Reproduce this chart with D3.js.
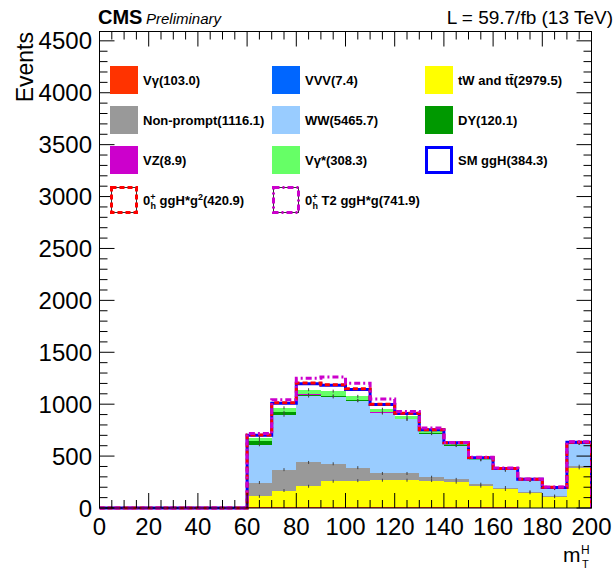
<!DOCTYPE html>
<html>
<head>
<meta charset="utf-8">
<script src="https://cdn.jsdelivr.net/npm/d3@7/dist/d3.min.js"></script>
<style>
  body { margin: 0; background: #fff; }
  svg { display: block; font-family: "Liberation Sans", Arial, Helvetica, sans-serif; }
</style>
</head>
<body>
<svg id="chart" width="615" height="572"></svg>
<script>
// ---------------------------
// mT^H stacked histogram (CMS style)
// ---------------------------

// lower bin edges, 10 GeV wide
const binLow = [0, 10, 20, 30, 40, 50, 60, 70, 80, 90, 100, 110, 120, 130, 140, 150, 160, 170, 180, 190];
const binWidth = 10;

// backgrounds, in stacking order (bottom -> top)
const vgamma    = [0, 0, 0, 0, 0, 0, 8, 10, 11, 11, 10, 9, 9, 8, 7, 6, 5, 4, 3, 2];
const vvv       = [0, 0, 0, 0, 0, 0, 0.3, 0.5, 0.6, 0.7, 0.7, 0.6, 0.6, 0.5, 0.5, 0.4, 0.4, 0.3, 0.3, 1.0];
const ttbar     = [0, 0, 0, 0, 0, 0, 104, 158, 198, 246, 253, 258, 258, 256, 241, 204, 173, 142, 105, 383.5];
const nonprompt = [0, 0, 0, 0, 0, 0, 133, 201, 229.1, 168, 125, 65, 65, 32, 27, 19, 19, 10, 7, 16];
const ww        = [0, 0, 0, 0, 0, 0, 364, 524, 640, 644, 644, 582, 520, 420, 326, 235, 167, 109, 72, 218.7];
const dy        = [0, 0, 0, 0, 0, 0, 40, 28, 14, 11, 5, 5, 5, 4, 3, 2, 1.5, 1, 0.6, 0];
const vz        = [0, 0, 0, 0, 0, 0, 0.4, 0.7, 0.8, 0.8, 0.8, 0.7, 0.7, 0.6, 0.6, 0.5, 0.5, 0.4, 0.3, 1.1];
const vgstar    = [0, 0, 0, 0, 0, 0, 28, 43, 46, 44, 37, 31, 24, 18, 11, 8, 6, 4, 3, 5.3];

// signals, drawn as lines on top of the background sum
const smggh = [0, 0, 0, 0, 0, 0, 24, 45, 58, 56, 66.3, 45, 27, 14, 12, 10, 8, 6, 7, 6];
const h0g2  = [0, 0, 0, 0, 0, 0, 26, 49, 64, 61, 73, 49, 30, 15, 13, 11, 9, 7, 7.5, 6.4];
const h0t2  = [0, 0, 0, 0, 0, 0, 41, 77, 111, 137, 127, 98, 48, 32, 16, 14, 12, 9, 10, 9.9];

const bkgKeys   = ["vgamma", "vvv", "ttbar", "nonprompt", "ww", "dy", "vz", "vgstar"];
const bkgSeries = { vgamma, vvv, ttbar, nonprompt, ww, dy, vz, vgstar };
const bkgColors = {
  vgamma: "#ff3300", vvv: "#0066ff", ttbar: "#ffff00", nonprompt: "#999999",
  ww: "#99ccff", dy: "#009900", vz: "#cc00cc", vgstar: "#66ff66"
};

const xTickMajor = [0, 20, 40, 60, 80, 100, 120, 140, 160, 180, 200];
const yTickMajor = [0, 500, 1000, 1500, 2000, 2500, 3000, 3500, 4000, 4500];

// frame geometry
const frame = { left: 99.5, right: 591.5, top: 31.5, bottom: 508 };

const svg = d3.select("#chart");

const x = d3.scaleLinear().domain([0, 200]).range([frame.left, frame.right]);
const y = d3.scaleLinear().domain([0, 4590]).range([frame.bottom, frame.top]);

svg.append("defs").append("clipPath").attr("id", "plotclip")
  .append("rect")
  .attr("x", frame.left).attr("y", frame.top)
  .attr("width", frame.right - frame.left).attr("height", frame.bottom - frame.top + 3);

const plot = svg.append("g").attr("clip-path", "url(#plotclip)");

// stack backgrounds
const rows = binLow.map((b, i) => {
  const r = { bin: b };
  bkgKeys.forEach(k => { r[k] = bkgSeries[k][i]; });
  return r;
});
const stacked = d3.stack().keys(bkgKeys)(rows);

plot.selectAll(".layer")
  .data(stacked)
  .enter()
  .append("g")
  .attr("class", "layer")
  .attr("fill", d => bkgColors[d.key])
  .selectAll("rect")
  .data(d => d)
  .enter()
  .append("rect")
  .attr("shape-rendering", "crispEdges")
  .attr("x", d => x(d.data.bin))
  .attr("width", d => x(d.data.bin + binWidth) - x(d.data.bin))
  .attr("y", d => y(d[1]))
  .attr("height", d => Math.max(0, y(d[0]) - y(d[1])));

// tiny stat error marks at the top of each visible layer
const errKeys = ["ttbar", "nonprompt", "ww", "dy", "vgstar"];
stacked.filter(s => errKeys.includes(s.key)).forEach(s => {
  plot.append("g")
    .selectAll("line")
    .data(s.filter(d => d[1] > 0))
    .enter()
    .append("line")
    .attr("x1", d => x(d.data.bin + binWidth / 2))
    .attr("x2", d => x(d.data.bin + binWidth / 2))
    .attr("y1", d => y(d[1]) - 1.5)
    .attr("y2", d => y(d[1]) + 1.5)
    .attr("stroke", "#444")
    .attr("stroke-width", 1);
});

// signal lines stacked on the background total
const bkgTotal = stacked[stacked.length - 1].map(d => d[1]);

const stepLine = d3.line()
  .x(d => x(d[0]))
  .y(d => y(d[1]))
  .curve(d3.curveStepAfter);

function signalPoints(sig) {
  const pts = binLow.map((b, i) => [b, bkgTotal[i] + sig[i]]);
  const last = pts[pts.length - 1][1];
  pts.push([200, last]);
  pts.push([200, 0]);
  return pts;
}

const signals = [
  { data: smggh, color: "#0000ff", dash: null },
  { data: h0g2,  color: "#ff0000", dash: "5,3" },
  { data: h0t2,  color: "#cc00cc", dash: "6,3,2,3" }
];

signals.forEach(s => {
  plot.append("path")
    .attr("d", stepLine(signalPoints(s.data)))
    .attr("fill", "none")
    .attr("stroke", s.color)
    .attr("stroke-width", 3)
    .attr("stroke-dasharray", s.dash);
});

// ---------- axes: frame + mirrored ticks ----------
const axes = svg.append("g").attr("stroke", "#000").attr("stroke-width", 1);

axes.append("rect")
  .attr("x", frame.left).attr("y", frame.top)
  .attr("width", frame.right - frame.left).attr("height", frame.bottom - frame.top)
  .attr("fill", "none");

const xMinor = d3.range(0, 201, 5);
const yMinor = d3.range(0, 4590, 100);

xMinor.forEach(v => {
  const len = (v % 20 === 0) ? 15 : 8;
  axes.append("line").attr("x1", x(v)).attr("x2", x(v))
    .attr("y1", frame.bottom).attr("y2", frame.bottom - len);
  axes.append("line").attr("x1", x(v)).attr("x2", x(v))
    .attr("y1", frame.top).attr("y2", frame.top + len);
});

yMinor.forEach(v => {
  const len = (v % 500 === 0) ? 15 : 8;
  axes.append("line").attr("x1", frame.left).attr("x2", frame.left + len)
    .attr("y1", y(v)).attr("y2", y(v));
  axes.append("line").attr("x1", frame.right).attr("x2", frame.right - len)
    .attr("y1", y(v)).attr("y2", y(v));
});

// tick labels
svg.append("g")
  .selectAll("text")
  .data(xTickMajor)
  .enter()
  .append("text")
  .attr("x", d => x(d))
  .attr("y", 535)
  .attr("text-anchor", "middle")
  .attr("font-size", 24)
  .text(d => d);

svg.append("g")
  .selectAll("text")
  .data(yTickMajor)
  .enter()
  .append("text")
  .attr("x", 92)
  .attr("y", d => y(d))
  .attr("dy", "0.36em")
  .attr("text-anchor", "end")
  .attr("font-size", 24)
  .text(d => d);

// axis titles
svg.append("text")
  .attr("transform", "translate(33,32) rotate(-90)")
  .attr("text-anchor", "end")
  .attr("font-size", 23)
  .text("Events");

svg.append("text").attr("x", 563).attr("y", 562).attr("font-size", 21).text("m");
svg.append("text").attr("x", 581).attr("y", 554).attr("font-size", 12).text("H");
svg.append("text").attr("x", 582).attr("y", 568).attr("font-size", 11).text("T");

// header
svg.append("text").attr("x", 98).attr("y", 24)
  .attr("font-size", 20).attr("font-weight", "bold").text("CMS");
svg.append("text").attr("x", 146).attr("y", 24)
  .attr("font-size", 15).attr("font-style", "italic").text("Preliminary");
svg.append("text").attr("x", 613).attr("y", 24)
  .attr("text-anchor", "end").attr("font-size", 19).text("L = 59.7/fb (13 TeV)");

// ---------- legend ----------
const legendCols = [110, 272, 425];
const legendRows = [80, 120, 160, 200];
const boxSize = 28;

const legendItems = [
  { kind: "fill", color: bkgColors.vgamma,    parts: [{ t: "V\u03b3(103.0)" }] },
  { kind: "fill", color: bkgColors.vvv,       parts: [{ t: "VVV(7.4)" }] },
  { kind: "fill", color: bkgColors.ttbar,     parts: [{ t: "tW and t\u0074\u0304(2979.5)" }] },
  { kind: "fill", color: bkgColors.nonprompt, parts: [{ t: "Non-prompt(1116.1)" }] },
  { kind: "fill", color: bkgColors.ww,        parts: [{ t: "WW(5465.7)" }] },
  { kind: "fill", color: bkgColors.dy,        parts: [{ t: "DY(120.1)" }] },
  { kind: "fill", color: bkgColors.vz,        parts: [{ t: "VZ(8.9)" }] },
  { kind: "fill", color: bkgColors.vgstar,    parts: [{ t: "V\u03b3*(308.3)" }] },
  { kind: "line", color: "#0000ff", dash: null, parts: [{ t: "SM ggH(384.3)" }] },
  { kind: "line", color: "#ff0000", dash: "5,3", parts: [
      { t: "0" }, { t: "+", dy: -5, fs: 9 }, { t: "h", dx: -5, dy: 9, fs: 9 },
      { t: " ggH*g", dy: -4 }, { t: "2", dy: -5, fs: 9 }, { t: "(420.9)", dy: 5 }] },
  { kind: "line", color: "#cc00cc", dash: "6,3,2,3", parts: [
      { t: "0" }, { t: "+", dy: -5, fs: 9 }, { t: "h", dx: -5, dy: 9, fs: 9 },
      { t: " T2 ggH*g", dy: -4 }, { t: "(741.9)" }] }
];

const legend = svg.append("g").attr("font-size", 13).attr("font-weight", "bold");

legendItems.forEach((item, i) => {
  const bx = legendCols[i % 3];
  const cy = legendRows[Math.floor(i / 3)];
  if (item.kind === "fill") {
    legend.append("rect")
      .attr("x", bx).attr("y", cy - boxSize / 2)
      .attr("width", boxSize).attr("height", boxSize)
      .attr("fill", item.color);
  } else {
    if (item.dash) {
      legend.append("rect")
        .attr("x", bx + 1.5).attr("y", cy - boxSize / 2 + 1.5)
        .attr("width", boxSize - 3).attr("height", boxSize - 3)
        .attr("fill", "#fff").attr("stroke", "#333").attr("stroke-width", 1);
    }
    legend.append("rect")
      .attr("x", bx + 1.5).attr("y", cy - boxSize / 2 + 1.5)
      .attr("width", boxSize - 3).attr("height", boxSize - 3)
      .attr("fill", item.dash ? "none" : "#fff")
      .attr("stroke", item.color).attr("stroke-width", 3)
      .attr("stroke-dasharray", item.dash);
  }
  const t = legend.append("text").attr("x", bx + 33).attr("y", cy + 4.5);
  item.parts.forEach(p => {
    const s = t.append("tspan").text(p.t);
    if (p.dy) s.attr("dy", p.dy);
    if (p.dx) s.attr("dx", p.dx);
    if (p.fs) s.attr("font-size", p.fs);
  });
});
</script>
</body>
</html>
